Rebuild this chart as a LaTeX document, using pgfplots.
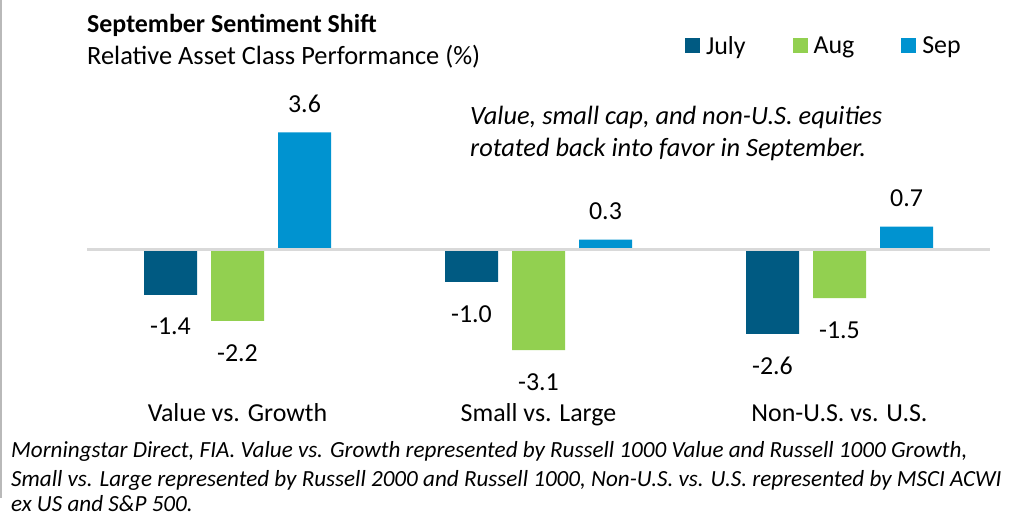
\documentclass[border=0pt]{standalone}
\usepackage{pgfplots}
\pgfplotsset{compat=1.18}
\usepackage{fontspec}
\setmainfont{Carlito}
\definecolor{cJuly}{HTML}{005A82}
\definecolor{cAug}{HTML}{92D050}
\definecolor{cSep}{HTML}{0093D0}
\definecolor{zline}{HTML}{D9D9D9}
\begin{document}
\begin{tikzpicture}[x=1bp,y=1bp]
\path[use as bounding box] (0,0) rectangle (1035,517);
\draw[color=gray!55, line width=1.2bp] (1,517) -- (1,19);
\node[anchor=base west, inner sep=0pt, font=\fontsize{26}{30}\selectfont\bfseries] at (87,484) {September Sentiment Shift};
\node[anchor=base west, inner sep=0pt, font=\fontsize{26.5}{30}\selectfont] at (87,452) {Relative Asset Class Performance (\%)};
\node[anchor=base west, inner sep=0pt, font=\fontsize{26.5}{30}\selectfont\itshape] at (470,392) {Value, small cap, and non-U.S. equities};
\node[anchor=base west, inner sep=0pt, font=\fontsize{26.5}{30}\selectfont\itshape] at (470,360) {rotated back into favor in September.};
\node[anchor=base west, inner sep=0pt, font=\fontsize{23.2}{27}\selectfont\itshape] at (11,59) {Morningstar Direct, FIA. Value vs. Growth represented by Russell 1000 Value and Russell 1000 Growth,};
\node[anchor=base west, inner sep=0pt, font=\fontsize{23.2}{27}\selectfont\itshape] at (11,30) {Small vs. Large represented by Russell 2000 and Russell 1000, Non-U.S. vs. U.S. represented by MSCI ACWI};
\node[anchor=base west, inner sep=0pt, font=\fontsize{23.2}{27}\selectfont\itshape] at (11,5) {ex US and S\&P 500.};
\begin{axis}[
  at={(87bp,137.5bp)}, anchor=south west,
  width=903bp, height=260bp, scale only axis,
  xmin=-0.5, xmax=2.5, ymin=-4, ymax=4,
  clip=false,
  axis line style={draw=none},
  tick style={draw=none},
  ytick=\empty,
  xtick={0,1,2},
  xticklabels={Value vs. Growth, Small vs. Large, Non-U.S. vs. U.S.},
  xticklabel style={font=\fontsize{26}{30}\selectfont, anchor=base, yshift=-37.5bp, inner sep=0pt},
  ybar=14bp, bar width=53bp,
  visualization depends on={rawy \as \rawy},
  nodes near coords={\pgfmathprintnumber[fixed,fixed zerofill,precision=1,assume math mode=true]{\pgfplotspointmeta}},
  every node near coord/.append style={font=\fontsize{26}{30}\selectfont, inner sep=0pt, color=black,
     yshift={ifthenelse(\rawy>0,20,-23)*1bp}},
  legend columns=3,
  legend style={draw=none, fill=none, at={(0.662,1.283)}, anchor=west, inner sep=0pt,
     nodes={inner sep=0pt, font=\fontsize{26}{30}\selectfont},
     /tikz/every odd column/.append style={column sep=6bp},
     /tikz/every even column/.append style={column sep=47bp}},
  legend image code/.code={\fill[#1] (0bp,-7.5bp) rectangle (15bp,7.5bp);},
]
\addplot[fill=cJuly, draw=none] coordinates {(0,-1.4) (1,-1.0) (2,-2.6)};
\addplot[fill=cAug, draw=none] coordinates {(0,-2.2) (1,-3.1) (2,-1.5)};
\addplot[fill=cSep, draw=none] coordinates {(0,3.6) (1,0.3) (2,0.7)};
\legend{July, Aug, Sep}
\draw[zline, line width=2.5bp] (axis cs:-0.5,0) -- (axis cs:2.5,0);
\end{axis}
\end{tikzpicture}
\end{document}
